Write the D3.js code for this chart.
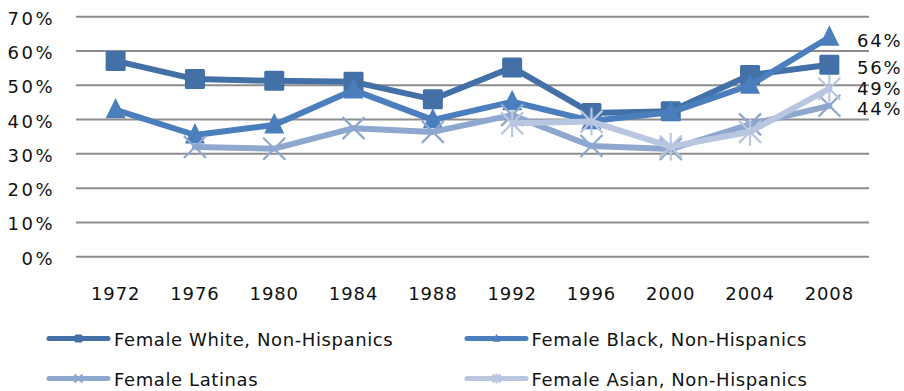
<!DOCTYPE html>
<html>
<head>
<meta charset="utf-8">
<script src="https://cdn.jsdelivr.net/npm/d3@7"></script>
<style>
  html, body { margin: 0; padding: 0; background: #ffffff; }
  svg { display: block; }
  text { font-family: "DejaVu Sans", Verdana, sans-serif; fill: #111; }
</style>
</head>
<body>
<svg id="chart" width="904" height="391"></svg>
<script>
// Election years on the category axis
const years = ["1972", "1976", "1980", "1984", "1988", "1992", "1996", "2000", "2004", "2008"];

// Share of each group (percent); null where no figure exists
const whiteNH  = [57.1, 51.8, 51.3, 51.0, 45.9, 55.2, 41.9, 42.4, 53.0, 56];
const blackNH  = [42.8, 35.5, 38.4, 48.6, 39.9, 45.2, 39.6, 42.1, 50.0, 64];
const latinas  = [null, 32.0, 31.5, 37.5, 36.4, 41.3, 32.3, 31.4, 38.6, 44];
const asianNH  = [null, null, null, null, null, 38.9, 39.4, 32.1, 36.4, 49];

// Axis ticks
const yTicks = [0, 10, 20, 30, 40, 50, 60, 70];

const seriesNames = [
  "Female White, Non-Hispanics",
  "Female Black, Non-Hispanics",
  "Female Latinas",
  "Female Asian, Non-Hispanics"
];
const seriesColors = ["#4270a7", "#4a7ebd", "#8ea7cf", "#b8c6e0"];
const seriesMarkers = ["square", "triangle", "cross", "asterisk"];
const seriesValues = [whiteNH, blackNH, latinas, asianNH];

const svg = d3.select("#chart");

const x = d3.scaleBand().domain(years).range([76, 869]).padding(0);
const y = d3.scaleLinear().domain([0, 70]).range([256.7, 16.7]);
const cx = d => x(d) + x.bandwidth() / 2;

// Horizontal gridlines
svg.append("g")
  .selectAll("line")
  .data(yTicks)
  .join("line")
  .attr("x1", 76).attr("x2", 869)
  .attr("y1", d => y(d)).attr("y2", d => y(d))
  .attr("stroke", "#8d8d8d")
  .attr("stroke-width", 2);

// Y axis labels
const yAxis = d3.axisLeft(y).tickValues(yTicks).tickFormat(d => d + "%").tickSize(0).tickPadding(0);
const yg = svg.append("g").attr("transform", "translate(55,0)").call(yAxis);
yg.select(".domain").remove();
yg.selectAll("text")
  .attr("font-family", "DejaVu Sans, Verdana, sans-serif")
  .attr("font-size", 18)
  .attr("letter-spacing", "2.5px")
  .attr("fill", "#111")
  .attr("dy", "0.42em");

// X axis labels
const xAxis = d3.axisBottom(x).tickSize(0).tickPadding(0);
const xg = svg.append("g").attr("transform", "translate(0,300)").call(xAxis);
xg.select(".domain").remove();
xg.selectAll("text")
  .attr("font-family", "DejaVu Sans, Verdana, sans-serif")
  .attr("font-size", 18)
  .attr("letter-spacing", "0.9px")
  .attr("fill", "#111")
  .attr("dy", 0)
  .attr("y", 0);

// Marker drawing
function drawMarker(g, type, color, size) {
  const s = size;
  if (type === "square") {
    g.append("rect")
      .attr("x", -s / 2).attr("y", -s / 2)
      .attr("width", s).attr("height", s)
      .attr("rx", 1.5)
      .attr("fill", color);
  } else if (type === "triangle") {
    g.append("path")
      .attr("d", `M0,${-s * 0.6} L${s * 0.5},${s * 0.42} L${-s * 0.5},${s * 0.42} Z`)
      .attr("fill", color);
  } else if (type === "cross") {
    const h = s / 2;
    g.append("path")
      .attr("d", `M${-h},${-h} L${h},${h} M${-h},${h} L${h},${-h}`)
      .attr("stroke", color).attr("stroke-width", 2.2).attr("fill", "none");
  } else if (type === "asterisk") {
    const h = s / 2;
    g.append("path")
      .attr("d", `M${-h},${-h} L${h},${h} M${-h},${h} L${h},${-h} M0,${-h * 1.25} L0,${h * 1.25}`)
      .attr("stroke", color).attr("stroke-width", 2.2).attr("fill", "none");
  }
}

const line = d3.line()
  .defined(d => d.v !== null)
  .x(d => cx(d.year))
  .y(d => y(d.v));

const markerSizes = [20, 20, 22, 22];

seriesValues.forEach((vals, i) => {
  const pts = years.map((yr, j) => ({ year: yr, v: vals[j] }));
  const g = svg.append("g");
  g.append("path")
    .datum(pts)
    .attr("d", line)
    .attr("fill", "none")
    .attr("stroke", seriesColors[i])
    .attr("stroke-width", 6)
    .attr("stroke-linejoin", "round")
    .attr("stroke-linecap", "round");
  pts.filter(p => p.v !== null).forEach(p => {
    const m = g.append("g").attr("transform", `translate(${cx(p.year)},${y(p.v)})`);
    drawMarker(m, seriesMarkers[i], seriesColors[i], markerSizes[i]);
  });
});

// Value labels for the final year, nudged apart so they don't collide
const last = years.length - 1;
const endLabels = seriesValues
  .map(v => ({ v: v[last], pos: y(v[last]) + 3 }))
  .sort((a, b) => b.pos - a.pos);
const minGap = 20.5;
for (let k = 1; k < endLabels.length; k++) {
  const below = endLabels[k - 1];
  if (below.pos - endLabels[k].pos < minGap) endLabels[k].pos = below.pos - minGap;
}
svg.append("g")
  .selectAll("text")
  .data(endLabels)
  .join("text")
  .attr("x", 857)
  .attr("y", d => d.pos)
  .attr("dy", "0.36em")
  .attr("font-size", 18)
  .attr("letter-spacing", "1.8px")
  .text(d => d3.format(".0f")(d.v) + "%");

// Legend
const legendItems = [
  { lx: 49, ly: 338.5, tx: 114 },
  { lx: 467, ly: 338.5, tx: 531.5 },
  { lx: 49, ly: 378.5, tx: 114 },
  { lx: 467, ly: 378.5, tx: 531.5 }
];
legendItems.forEach((it, i) => {
  const g = svg.append("g");
  g.append("line")
    .attr("x1", it.lx).attr("x2", it.lx + 59)
    .attr("y1", it.ly).attr("y2", it.ly)
    .attr("stroke", seriesColors[i])
    .attr("stroke-width", 5)
    .attr("stroke-linecap", "round");
  const m = g.append("g").attr("transform", `translate(${it.lx + 29.5},${it.ly})`);
  drawMarker(m, seriesMarkers[i], seriesColors[i], 8);
  g.append("text")
    .attr("x", it.tx)
    .attr("y", it.ly + 7.5)
    .attr("font-size", 18)
    .attr("letter-spacing", "0.6px")
    .text(seriesNames[i]);
});
</script>
</body>
</html>
